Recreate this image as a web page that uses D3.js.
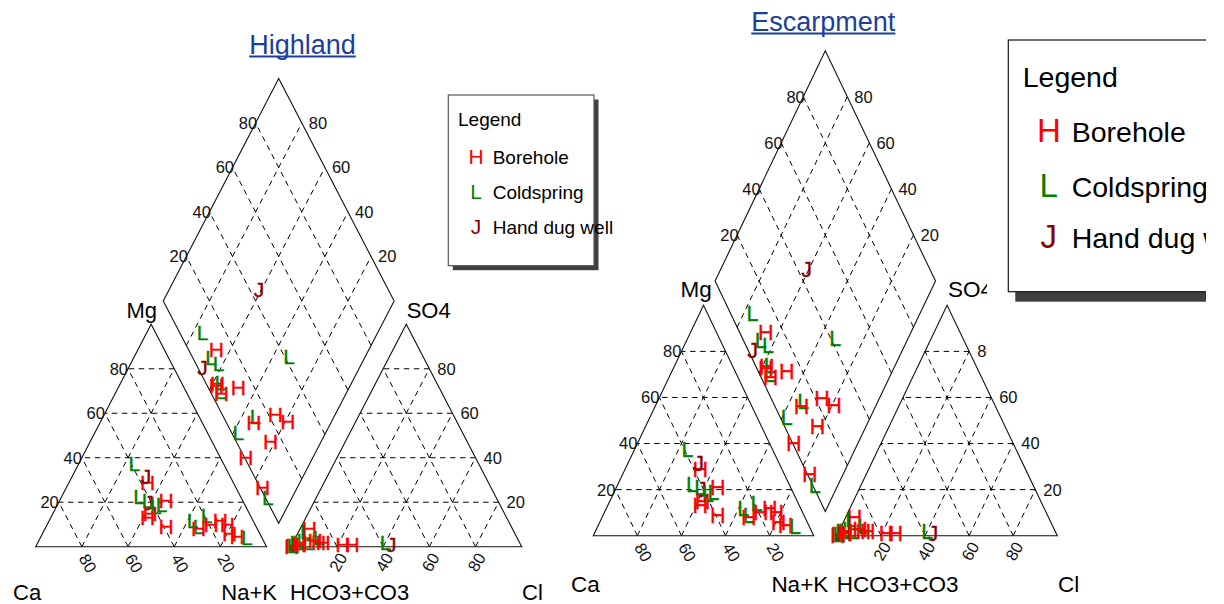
<!DOCTYPE html>
<html>
<head>
<meta charset="utf-8">
<script src="https://cdn.jsdelivr.net/npm/d3@7"></script>
<style>
  html, body { margin: 0; padding: 0; background: #fff; }
  svg { display: block; font-family: "Liberation Sans", Arial, Helvetica, sans-serif; }
</style>
</head>
<body>
<svg id="chart" width="1224" height="604"></svg>
<script>
// ---- Water chemistry samples (percent of meq/L) ----
// Sample type codes: B = Borehole, C = Coldspring, W = Hand dug well
const sampleType = ["W","C","B","C","C","W","B","C","C","B","B","C","B","B","C","B","C","B","B","B","C","B"];
const mgPct   = [20, 37.5, 29, 22.5, 21, 31.5, 15, 18, 19, 21, 9, 14, 12, 6, 9, 8, 12, 10, 10, 4.5, 4, 13];
const naKPct  = [39, 24, 34, 33.5, 38, 32, 42, 43, 45, 46, 52, 67, 74, 81, 66, 66.5, 62, 78, 71, 85, 89.5, 42];
const so4Pct  = [1, 6, 8, 2, 7, 1, 2, 3, 2, 1, 2, 2, 1, 1, 4, 3, 2, 2, 0.3, 0.5, 0.5, 1];
const hco3Pct = [56, 90, 88, 92, 90, 98, 95, 93.5, 95.5, 95.7, 87, 58, 77, 73, 86, 88, 97, 85, 99.5, 99, 99, 96];

// Legend series
const seriesKeys    = ["B", "C", "W"];
const seriesNames   = ["Borehole", "Coldspring", "Hand dug well"];
const seriesSymbols = ["H", "L", "J"];

// Axis text
const gridPct     = [20, 40, 60, 80];
const cornerNames = ["Ca", "Mg", "Na+K", "HCO3+CO3", "SO4", "Cl"];
const panelTitles = ["Highland", "Escarpment"];
const legendTitle = "Legend";

// ---- styling ----
const colour = d3.scaleOrdinal().domain(seriesKeys).range(["#ff0000", "#008000", "#8b0000"]);
const symbol = d3.scaleOrdinal().domain(seriesKeys).range(seriesSymbols);
const titleBlue = "#1b3f9a";

const samples = sampleType.map((t, i) => ({
  type: t,
  mg: mgPct[i],
  nak: naKPct[i],
  so4: so4Pct[i],
  hco3: hco3Pct[i],
  cl: 100 - hco3Pct[i] - so4Pct[i]
}));

const R3 = Math.sqrt(3) / 2;
const GAP = 10.5;   // separation between the two ternaries (percent units)

const layouts = [
  { title: panelTitles[0], x0: 35.7, x1: 521.7, yb: 546.7, triH: 222.4,
    titleX: 302.5, titleY: 53.5, titleSize: 27,
    tickSize: 16.5, cornerSize: 22, markSize: 21,
    corners: [[13, 600, "start"], [157, 318, "end"], [277, 600, "end"],
              [290, 600, "start"], [406.7, 318, "start"], [522, 600, "start"]],
    legend: { x: 448.3, y: 95, w: 145.7, h: 170.7, sdx: 4.5, sdy: 4.5, border: "#555",
              titleSize: 19, titleX: 458, titleY: 126, itemSize: 19, markSize: 21,
              markX: 476, textX: 492.7, rowY: [164, 198.5, 234] } },
  { title: panelTitles[1], x0: 593.3, x1: 1057.3, yb: 535.7, triH: 230.4,
    titleX: 823.3, titleY: 30.5, titleSize: 27,
    tickSize: 16.5, cornerSize: 22.5, markSize: 21.5,
    corners: [[571, 592, "start"], [711.7, 297, "end"], [828.3, 592, "end"],
              [836.7, 592, "start"], [948, 297, "start"], [1058, 592, "start"]],
    cover: { x: 987, y: 0, w: 240, h: 365 },
    legend: { x: 1008.3, y: 40, w: 260, h: 251.7, sdx: 7, sdy: 10, border: "#111",
              titleSize: 28.5, titleX: 1022.7, titleY: 87.3, itemSize: 28.5, markSize: 33,
              markX: 1048.8, textX: 1071.7, rowY: [141.7, 196.7, 248.3] } }
];

const svg = d3.select("#chart");

function drawPiper(L) {
  const g = svg.append("g");
  const x = d3.scaleLinear().domain([0, 200 + GAP]).range([L.x0, L.x1]);
  const y = d3.scaleLinear().domain([0, 100 * R3]).range([L.yb, L.yb - L.triH]);

  // projections (all inputs in percent)
  const cat = (mg, nak) => [x(nak + mg / 2), y(mg * R3)];
  const an  = (so4, cl) => [x(100 + GAP + cl + so4 / 2), y(so4 * R3)];
  const dia = (nak, hco3) => [x(100 + GAP / 2 + (nak - hco3) / 2), y(R3 * (200 + GAP - nak - hco3))];

  const line = d3.line();

  // ---- dashed grid ----
  const grid = [];
  gridPct.forEach(k => {
    // cation triangle
    grid.push([cat(k, 100 - k), cat(k, 0)]);          // constant Mg
    grid.push([cat(0, k), cat(100 - k, k)]);          // constant Na+K
    grid.push([cat(0, 100 - k), cat(100 - k, 0)]);    // constant Ca
    // anion triangle
    grid.push([an(k, 100 - k), an(k, 0)]);            // constant SO4
    grid.push([an(0, k), an(100 - k, k)]);            // constant Cl
    grid.push([an(0, 100 - k), an(100 - k, 0)]);      // constant HCO3
    // diamond
    grid.push([dia(k, 100), dia(k, 0)]);
    grid.push([dia(100, k), dia(0, k)]);
  });
  g.append("g")
    .selectAll("path").data(grid).join("path")
    .attr("d", d => line(d))
    .attr("fill", "none")
    .attr("stroke", "#000")
    .attr("stroke-width", 1)
    .attr("stroke-dasharray", "5.5,4.5");

  // ---- outlines ----
  const outlines = [
    [cat(0, 0), cat(0, 100), cat(100, 0)],
    [an(0, 0), an(0, 100), an(100, 0)],
    [dia(0, 100), dia(100, 100), dia(100, 0), dia(0, 0)]
  ];
  g.append("g")
    .selectAll("path").data(outlines).join("path")
    .attr("d", d => line(d) + "Z")
    .attr("fill", "none")
    .attr("stroke", "#111")
    .attr("stroke-width", 1.1)
    .attr("stroke-linejoin", "miter");

  // ---- tick labels ----
  const tick = g.append("g").attr("font-size", L.tickSize).attr("fill", "#111");
  gridPct.forEach(k => {
    const pMg = cat(k, 0);
    tick.append("text").attr("x", pMg[0]).attr("y", pMg[1]).attr("dy", "0.36em")
      .attr("text-anchor", "end").text(k);

    const pCa = cat(0, 100 - k);
    tick.append("text").attr("text-anchor", "middle").attr("dy", "0.36em")
      .attr("transform", `translate(${pCa[0] + 6},${pCa[1] + 16.5}) rotate(60)`).text(k);

    const pCl = an(0, k);
    tick.append("text").attr("text-anchor", "middle").attr("dy", "0.36em")
      .attr("transform", `translate(${pCl[0] + 1},${pCl[1] + 15.5}) rotate(-60)`).text(k);

    const pS = an(k, 100 - k);
    tick.append("text").attr("x", pS[0] + 8).attr("y", pS[1]).attr("dy", "0.36em")
      .attr("text-anchor", "start").text(k);

    const pUL = dia(0, 100 - k);
    tick.append("text").attr("x", pUL[0] + 1.5).attr("y", pUL[1]).attr("dy", "0.36em")
      .attr("text-anchor", "end").text(k);

    const pUR = dia(100 - k, 0);
    tick.append("text").attr("x", pUR[0] + 7).attr("y", pUR[1]).attr("dy", "0.36em")
      .attr("text-anchor", "start").text(k);
  });

  // ---- corner labels ----
  g.append("g").attr("font-size", L.cornerSize).attr("fill", "#000")
    .selectAll("text").data(cornerNames).join("text")
    .attr("x", (d, i) => L.corners[i][0])
    .attr("y", (d, i) => L.corners[i][1])
    .attr("text-anchor", (d, i) => L.corners[i][2])
    .text(d => d);

  // ---- samples: cation, anion and diamond projections ----
  const marks = [];
  samples.forEach(s => {
    marks.push({ type: s.type, p: cat(s.mg, s.nak) });
    marks.push({ type: s.type, p: an(s.so4, s.cl) });
    marks.push({ type: s.type, p: dia(s.nak, s.hco3) });
  });
  g.append("g").attr("font-size", L.markSize).attr("text-anchor", "middle")
    .selectAll("text").data(marks).join("text")
    .attr("x", d => d.p[0]).attr("y", d => d.p[1]).attr("dy", "0.36em")
    .attr("fill", d => colour(d.type))
    .attr("stroke", d => colour(d.type))
    .attr("stroke-width", 0.35)
    .text(d => symbol(d.type));

  // ---- title ----
  const t = g.append("text")
    .attr("x", L.titleX).attr("y", L.titleY)
    .attr("text-anchor", "middle")
    .attr("font-size", L.titleSize)
    .attr("fill", titleBlue)
    .text(L.title);
  const tw = t.node().getComputedTextLength();
  g.append("line")
    .attr("x1", L.titleX - tw / 2).attr("x2", L.titleX + tw / 2)
    .attr("y1", L.titleY + 3).attr("y2", L.titleY + 3)
    .attr("stroke", titleBlue).attr("stroke-width", 1.8);

  // ---- legend ----
  if (L.cover) {
    svg.append("rect").attr("x", L.cover.x).attr("y", L.cover.y)
      .attr("width", L.cover.w).attr("height", L.cover.h).attr("fill", "#fff");
  }
  const lg = L.legend;
  const leg = svg.append("g");
  leg.append("rect").attr("x", lg.x + lg.sdx).attr("y", lg.y + lg.sdy)
    .attr("width", lg.w).attr("height", lg.h).attr("fill", "#404040");
  leg.append("rect").attr("x", lg.x).attr("y", lg.y)
    .attr("width", lg.w).attr("height", lg.h)
    .attr("fill", "#fff").attr("stroke", lg.border).attr("stroke-width", 1.2);
  leg.append("text").attr("x", lg.titleX).attr("y", lg.titleY)
    .attr("font-size", lg.titleSize).attr("fill", "#000").text(legendTitle);
  const rows = leg.selectAll("g.row").data(seriesKeys).join("g").attr("class", "row");
  rows.append("text")
    .attr("x", lg.markX).attr("y", (d, i) => lg.rowY[i])
    .attr("text-anchor", "middle").attr("font-size", lg.markSize)
    .attr("fill", d => colour(d)).text(d => symbol(d));
  rows.append("text")
    .attr("x", lg.textX).attr("y", (d, i) => lg.rowY[i])
    .attr("font-size", lg.itemSize).attr("fill", "#000")
    .text((d, i) => seriesNames[i]);
}

layouts.forEach(drawPiper);

// right margin of the page
svg.append("rect").attr("x", 1206).attr("y", 0).attr("width", 18).attr("height", 604).attr("fill", "#fff");
</script>
</body>
</html>
